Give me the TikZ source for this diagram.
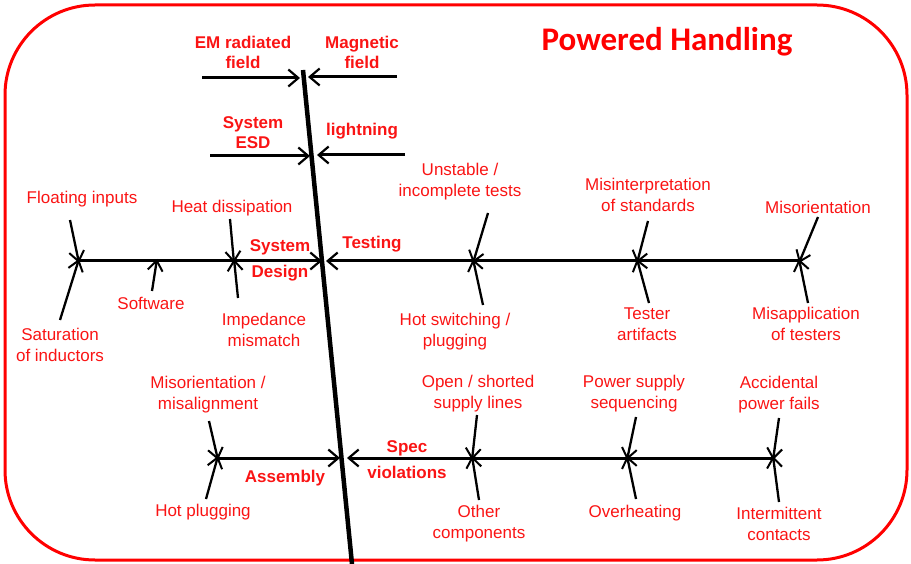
\documentclass[tikz,border=0pt]{standalone}
\usepackage{fontspec}
\setmainfont{Liberation Sans}
\newfontfamily\titlefont{Carlito}
\usepackage{xcolor}
\definecolor{framered}{RGB}{255,0,0}
\definecolor{causered}{RGB}{250,20,20}
\usepackage{tikz}
\usetikzlibrary{arrows.meta}
\newcommand{\widthbone}{3pt}
\newcommand{\widthtwig}{2.3pt}
\tikzset{
    frame/.style={draw=framered, line width=3pt, rounded corners=90pt},
    spine/.style={draw, line width=4.5pt},
    bone/.style={-{Straight Barb[length=10pt, width=17pt, line width=2.2pt]}, line width=\widthbone},
    twig/.style={-{Straight Barb[length=10pt, width=15pt, line width=2pt]}, line width=\widthtwig},
    cause/.style={text=causered, align=center, inner sep=0pt, font=\fontsize{17}{21}\selectfont},
    category/.style={cause, font=\fontsize{17}{20}\selectfont\bfseries},
    title/.style={text=framered, inner sep=0pt, font=\titlefont\fontsize{33}{36}\selectfont\bfseries}
}

\begin{document}
\begin{tikzpicture}[x=1pt, y=-1pt]
      \useasboundingbox (0,0) rectangle (911,564);
      \path[frame] (5,5) rectangle (907,560);

      \node[title] (title) at (667,42) {Powered Handling};

      \path (303,70) coordinate (spine-top) (352,564) coordinate (spine-bottom);
      \draw[spine] (spine-top) -- (spine-bottom);

      \path
          (202,78) coordinate (em-start) +(98,0) coordinate (em-tip)
          (397,77) coordinate (mag-start) +(-89,0) coordinate (mag-tip)
          (210,156) coordinate (esd-start) +(100,0) coordinate (esd-tip)
          (405,155) coordinate (light-start) +(-88,0) coordinate (light-tip);

      \draw[bone] (em-start) -- (em-tip);
      \draw[bone] (mag-start) -- (mag-tip);
      \draw[bone] (esd-start) -- (esd-tip);
      \draw[bone] (light-start) -- (light-tip);

      \node[category] (em) at (243,52) {EM radiated\\field};
      \node[category] (mag) at (362,52) {Magnetic\\field};
      \node[category] (esd) at (253,133) {System\\ESD};
      \node[category] (light) at (362,131) {lightning};

      \path
          (79,261) coordinate (sd-start)
          +(243,0) coordinate (sd-tip)
          +(0,0) coordinate (sd-float)
          +(78,0) coordinate (sd-soft)
          +(155,0) coordinate (sd-heat)
          (799,261) coordinate (te-start)
          +(-473,0) coordinate (te-tip)
          +(-326,0) coordinate (te-unst)
          +(-162,0) coordinate (te-misint)
          +(0,0) coordinate (te-misor);

      \draw[bone] (sd-start) -- (sd-tip);
      \draw[bone] (te-start) -- (te-tip);

      \path
          (70,220) coordinate (float-end)
          (60,320) coordinate (sat-end)
          (152,291) coordinate (soft-end)
          (230,219) coordinate (heat-end)
          (238,298) coordinate (imp-end)
          (488,213) coordinate (unst-end)
          (483,305) coordinate (hot-end)
          (648,221) coordinate (misint-end)
          (649,303) coordinate (tester-end)
          (818,217) coordinate (misor-end)
          (808,303) coordinate (misapp-end);

      \draw[twig] (float-end) -- ([yshift=-2pt]sd-float);
      \draw[twig] (sat-end) -- ([yshift=2pt]sd-float);
      \draw[twig] (soft-end) -- ([yshift=2pt]sd-soft);
      \draw[twig] (heat-end) -- ([yshift=-2pt]sd-heat);
      \draw[twig] (imp-end) -- ([yshift=2pt]sd-heat);
      \draw[twig] (unst-end) -- ([yshift=-2pt]te-unst);
      \draw[twig] (hot-end) -- ([yshift=2pt]te-unst);
      \draw[twig] (misint-end) -- ([yshift=-2pt]te-misint);
      \draw[twig] (tester-end) -- ([yshift=2pt]te-misint);
      \draw[twig] (misor-end) -- ([yshift=-2pt]te-misor);
      \draw[twig] (misapp-end) -- ([yshift=2pt]te-misor);

      \node[category] (sd) at (280,260) {System\\[6pt]Design};
      \node[category] (te) at (372,244) {Testing};

      \node[cause] (float) at (82,199) {Floating inputs};
      \node[cause] (sat) at (60,345) {Saturation\\of inductors};
      \node[cause] (soft) at (151,303) {Software};
      \node[cause] (heat) at (232,208) {Heat dissipation};
      \node[cause] (imp) at (264,330) {Impedance\\mismatch};
      \node[cause] (unst) at (460,182) {Unstable /\\incomplete tests};
      \node[cause] (hot) at (455,332) {Hot switching /\\plugging};
      \node[cause] (misint) at (648,195) {Misinterpretation\\of standards};
      \node[cause] (tester) at (647,324) {Tester\\artifacts};
      \node[cause] (misor) at (818,207) {Misorientation};
      \node[cause] (misapp) at (806,324) {Misapplication\\of testers};

      \path
          (218,458) coordinate (as-start)
          +(122,0) coordinate (as-tip)
          +(0,0) coordinate (as-misal)
          (773,458) coordinate (sv-start)
          +(-426,0) coordinate (sv-tip)
          +(-301,0) coordinate (sv-open)
          +(-146,0) coordinate (sv-power)
          +(0,0) coordinate (sv-accid);

      \draw[bone] (as-start) -- (as-tip);
      \draw[bone] (sv-start) -- (sv-tip);

      \path
          (209,421) coordinate (misal-end)
          (206,499) coordinate (hotplug-end)
          (477,415) coordinate (open-end)
          (479,500) coordinate (other-end)
          (636,417) coordinate (power-end)
          (636,499) coordinate (overheat-end)
          (779,418) coordinate (accid-end)
          (779,502) coordinate (inter-end);

      \draw[twig] (misal-end) -- ([yshift=-2pt]as-misal);
      \draw[twig] (hotplug-end) -- ([yshift=2pt]as-misal);
      \draw[twig] (open-end) -- ([yshift=-2pt]sv-open);
      \draw[twig] (other-end) -- ([yshift=2pt]sv-open);
      \draw[twig] (power-end) -- ([yshift=-2pt]sv-power);
      \draw[twig] (overheat-end) -- ([yshift=2pt]sv-power);
      \draw[twig] (accid-end) -- ([yshift=-2pt]sv-accid);
      \draw[twig] (inter-end) -- ([yshift=2pt]sv-accid);

      \node[category] (as) at (285,478) {Assembly};
      \node[category] (sv) at (407,460) {Spec\\[6pt]violations};

      \node[cause] (misal) at (208,395) {Misorientation /\\misalignment};
      \node[cause] (hotplug) at (203,512) {Hot plugging};
      \node[cause] (open) at (478,394) {Open / shorted\\supply lines};
      \node[cause] (other) at (479,524) {Other\\components};
      \node[cause] (power) at (634,394) {Power supply\\sequencing};
      \node[cause] (overheat) at (635,513) {Overheating};
      \node[cause] (accid) at (779,395) {Accidental\\power fails};
      \node[cause] (inter) at (779,524) {Intermittent\\contacts};
    \end{tikzpicture}
\end{document}
